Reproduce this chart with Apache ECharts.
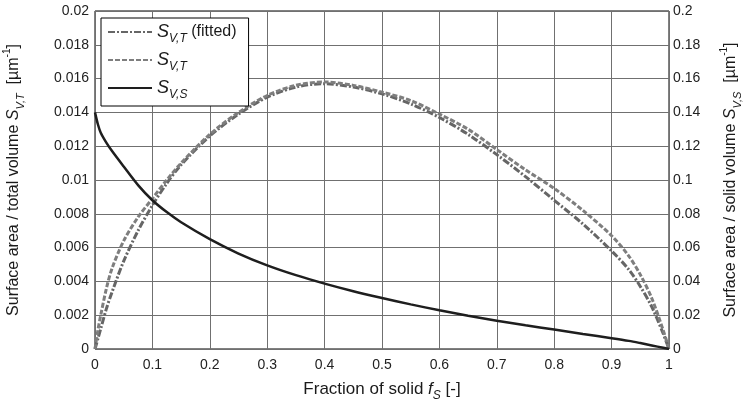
<!DOCTYPE html>
<html><head><meta charset="utf-8">
<script src="https://cdn.jsdelivr.net/npm/echarts@6/dist/echarts.min.js"></script>
<style>html,body{margin:0;padding:0;background:#fff}#c{width:743px;height:403px}</style>
</head><body><div id="c"></div>
<script>
// Fraction of solid f_S
const fS = [0, 0.005, 0.01, 0.02, 0.03, 0.05, 0.075, 0.1, 0.125, 0.15, 0.2, 0.25, 0.3, 0.35, 0.4, 0.45, 0.5, 0.55, 0.6, 0.65, 0.7, 0.75, 0.8, 0.85, 0.9, 0.93, 0.95, 0.97, 0.99, 1];
// S_V,T (fitted) on left axis
const svtFitted = [0, 0.0006, 0.0012, 0.0024, 0.0034, 0.0052, 0.0070, 0.0085, 0.0098, 0.0109, 0.0126, 0.0139, 0.0149, 0.0155, 0.0157, 0.0155, 0.0151, 0.0145, 0.0137, 0.0127, 0.0115, 0.0102, 0.0088, 0.0074, 0.0058, 0.0047, 0.0037, 0.0025, 0.0009, 0];
// S_V,T on left axis
const svtData = [0, 0.0011, 0.0020, 0.0036, 0.0048, 0.0064, 0.0078, 0.0089, 0.0100, 0.0110, 0.0127, 0.0140, 0.0150, 0.0156, 0.0158, 0.0156, 0.0152, 0.0147, 0.0139, 0.0130, 0.0118, 0.0106, 0.0095, 0.0082, 0.0067, 0.0055, 0.0044, 0.0030, 0.0011, 0];
// S_V,S on right axis
const svs = [0.140, 0.133, 0.128, 0.122, 0.117, 0.108, 0.097, 0.088, 0.081, 0.075, 0.065, 0.0565, 0.0495, 0.0437, 0.0387, 0.0342, 0.0302, 0.0264, 0.0229, 0.0197, 0.0167, 0.0140, 0.0115, 0.0089, 0.0064, 0.0048, 0.0035, 0.0021, 0.0007, 0];
const seriesNames = ['fitted', 'data', 'svs'];
const legendLabels = {
  fitted: '{s|S}{sub|V,T}{n| (fitted)}',
  data: '{s|S}{sub|V,T}',
  svs: '{s|S}{sub|V,S}'
};

const pairs = v => fS.map((x, i) => [x, v[i]]);
const FONT = 'Liberation Sans';
const C = '#1a1a1a';
const richTxt = {
  n: {fontFamily: FONT, fontSize: 16, color: C, lineHeight: 26, verticalAlign: 'middle'},
  s: {fontFamily: FONT, fontSize: 18, fontStyle: 'italic', color: C, lineHeight: 26, verticalAlign: 'middle'},
  sub: {fontFamily: FONT, fontSize: 12, fontStyle: 'italic', color: C, lineHeight: 13, verticalAlign: 'bottom'},
  sup: {fontFamily: FONT, fontSize: 11, color: C, lineHeight: 13, verticalAlign: 'top'},
  i: {fontFamily: FONT, fontSize: 17, fontStyle: 'italic', color: C, lineHeight: 26, verticalAlign: 'middle'},
  t: {fontFamily: FONT, fontSize: 17, color: C, lineHeight: 26, verticalAlign: 'middle'},
  ti: {fontFamily: FONT, fontSize: 16, fontStyle: 'italic', color: C, lineHeight: 24, verticalAlign: 'middle'},
  tt: {fontFamily: FONT, fontSize: 16, color: C, lineHeight: 24, verticalAlign: 'middle'},
  tsub: {fontFamily: FONT, fontSize: 11, fontStyle: 'italic', color: C, lineHeight: 12, verticalAlign: 'bottom'},
  tsup: {fontFamily: FONT, fontSize: 10, color: C, lineHeight: 12, verticalAlign: 'top'}
};

const chart = echarts.init(document.getElementById('c'), null, {renderer: 'canvas'});
const axisLbl = {fontFamily: FONT, fontSize: 14, color: '#222'};
const gridLine = {lineStyle: {color: '#707070', width: 1}};
chart.setOption({
  animation: false,
  backgroundColor: '#fff',
  grid: {left: 95, right: 74, top: 11, bottom: 54, show: true, borderColor: '#000', borderWidth: 1,
         containLabel: false, outerBoundsMode: 'none'},
  legend: {
    orient: 'vertical', left: 101, top: 18,
    data: seriesNames,
    formatter: n => legendLabels[n],
    textStyle: {rich: richTxt},
    itemWidth: 44, itemHeight: 14, itemGap: 6,
    itemStyle: {opacity: 0},
    backgroundColor: '#fff', borderColor: '#000', borderWidth: 1,
    padding: [5, 12, 5, 6]
  },
  xAxis: {
    type: 'value', min: 0, max: 1, interval: 0.1,
    axisLine: {show: false}, axisTick: {show: false},
    splitLine: gridLine,
    axisLabel: {...axisLbl, margin: 9},
    name: '{t|Fraction of solid }{i|f}{sub|S}{t| [-]}',
    nameLocation: 'middle', nameGap: 27,
    nameTextStyle: {rich: richTxt}
  },
  yAxis: [{
    type: 'value', min: 0, max: 0.02, interval: 0.002, position: 'left',
    axisLine: {show: false}, axisTick: {show: false},
    splitLine: gridLine,
    axisLabel: {...axisLbl, margin: 6},
    name: '{tt|Surface area / total volume }{ti|S}{tsub|V,T}{tt|  [µm}{tsup|-1}{tt|]}',
    nameLocation: 'middle', nameRotate: 90, nameGap: 69,
    nameTextStyle: {rich: richTxt}
  }, {
    type: 'value', min: 0, max: 0.2, interval: 0.02, position: 'right',
    axisLine: {show: false}, axisTick: {show: false},
    splitLine: {show: false},
    axisLabel: {...axisLbl, margin: 4},
    name: '{tt|Surface area / solid volume }{ti|S}{tsub|V,S}{tt|  [µm}{tsup|-1}{tt|]}',
    nameLocation: 'middle', nameRotate: 90, nameGap: 50,
    nameTextStyle: {rich: richTxt}
  }],
  series: [
    {name: 'fitted', type: 'line', yAxisIndex: 0, data: pairs(svtFitted), showSymbol: false, symbol: 'none', smooth: 0.3,
     lineStyle: {color: '#666', width: 3, type: [7, 2, 2, 2]}, itemStyle: {color: '#666'}},
    {name: 'data', type: 'line', yAxisIndex: 0, data: pairs(svtData), showSymbol: false, symbol: 'none', smooth: 0.3,
     lineStyle: {color: '#7e7e7e', width: 3, type: [5, 2]}, itemStyle: {color: '#7e7e7e'}},
    {name: 'svs', type: 'line', yAxisIndex: 1, data: pairs(svs), showSymbol: false, symbol: 'none', smooth: 0.3,
     lineStyle: {color: '#1e1e1e', width: 2.5}, itemStyle: {color: '#1e1e1e'}}
  ]
});
</script></body></html>
